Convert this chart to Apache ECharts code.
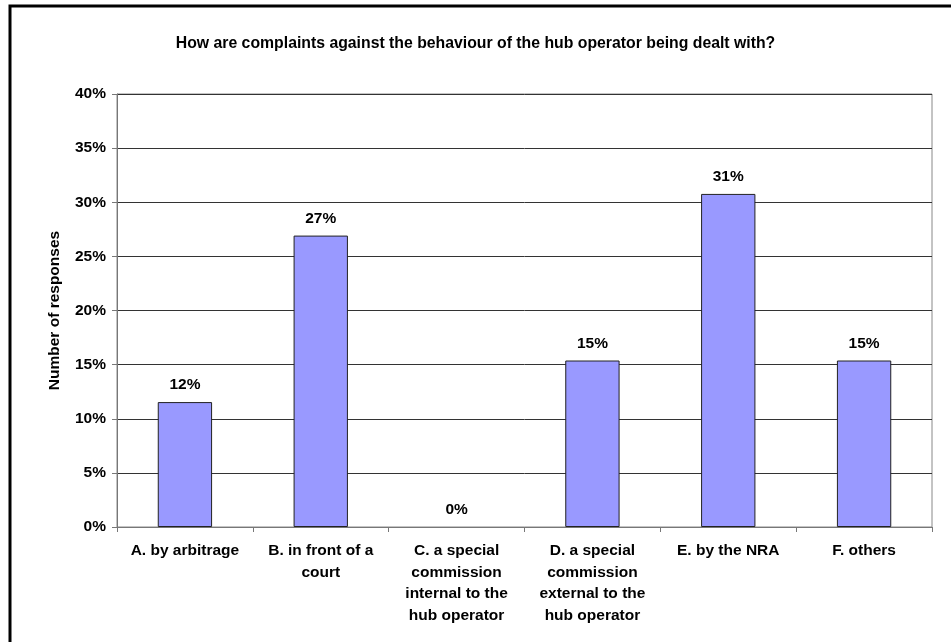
<!DOCTYPE html>
<html><head><meta charset="utf-8">
<script src="https://cdn.jsdelivr.net/npm/echarts@6/dist/echarts.min.js"></script>
<style>html,body{margin:0;padding:0;background:#fff}#c{width:951px;height:642px}</style>
</head><body><div id="c"></div>
<script>
const title = 'How are complaints against the behaviour of the hub operator being dealt with?';
const categories = ['A. by arbitrage','B. in front of a\ncourt','C. a special\ncommission\ninternal to the\nhub operator','D. a special\ncommission\nexternal to the\nhub operator','E. by the NRA','F. others'];
const values = [11.54, 26.92, 0, 15.38, 30.77, 15.38];
const yTicks = [0,5,10,15,20,25,30,35,40];
const yAxisName = 'Number of responses';

const font = 'Liberation Sans, Arial, sans-serif';
const chart = echarts.init(document.getElementById('c'));
chart.setOption({
  animation:false,
  title:{text:title,left:'center',top:31,textStyle:{fontFamily:font,fontSize:15.8,fontWeight:'bold',color:'#000'}},
  grid:{left:117,top:94,right:19,bottom:115,show:true,borderColor:'#888',borderWidth:1,containLabel:false},
  xAxis:{type:'category',data:categories,
    axisLine:{lineStyle:{color:'#777'}},
    axisTick:{show:true,length:5,lineStyle:{color:'#777'}},
    axisLabel:{fontFamily:font,fontSize:15.5,fontWeight:'bold',color:'#000',margin:13,lineHeight:21.5,interval:0}},
  yAxis:{type:'value',min:yTicks[0],max:yTicks[yTicks.length-1],interval:5,
    name:yAxisName,nameLocation:'middle',nameGap:54,nameRotate:90,
    nameTextStyle:{fontFamily:font,fontSize:15.5,fontWeight:'bold',color:'#000'},
    axisLine:{show:true,lineStyle:{color:'#777'}},
    axisTick:{show:true,length:5,inside:false,lineStyle:{color:'#777'}},
    splitLine:{lineStyle:{color:'#333',width:1}},
    axisLabel:{fontFamily:font,fontSize:15.5,fontWeight:'bold',color:'#000',margin:11,formatter:v=>v+'%'}},
  series:[{type:'bar',
    data:values.map(v=>({value:v,itemStyle:v===0?{borderWidth:0}:{}})),
    barWidth:'40%',
    itemStyle:{color:'#9999FF',borderColor:'#222',borderWidth:1},
    label:{show:true,position:'top',distance:9,fontFamily:font,fontSize:15.5,fontWeight:'bold',color:'#000',formatter:p=>Math.round(p.value)+'%'}}],
  graphic:[{type:'rect',shape:{x:10,y:6,width:1000,height:1000},style:{fill:'none',stroke:'#000',lineWidth:3},silent:true}]
});
</script></body></html>
